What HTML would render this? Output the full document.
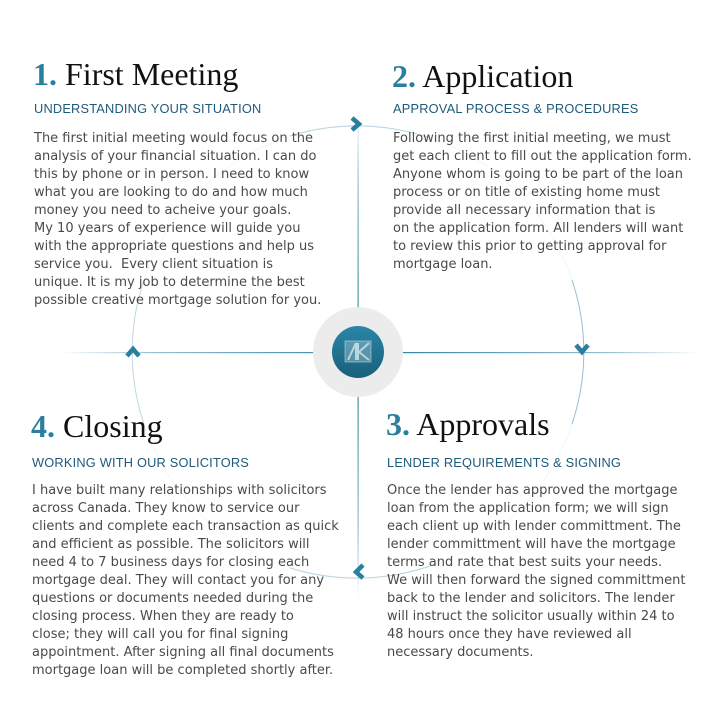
<!DOCTYPE html>
<html><head><meta charset="utf-8"><style>
html,body{margin:0;padding:0;background:#fff;}
body{width:703px;height:702px;position:relative;overflow:hidden;font-family:"DejaVu Sans","Liberation Sans",sans-serif;}
.h{position:absolute;font-family:"Liberation Serif",serif;font-size:32px;color:#111;white-space:nowrap;line-height:36px;}
.h b{color:#2a7f9e;font-weight:bold;}
.s{position:absolute;font-family:"Liberation Sans",sans-serif;font-size:12.8px;color:#1f5a7a;white-space:nowrap;letter-spacing:0.2px;line-height:16px;}
.t{position:absolute;font-size:13px;color:#4a4a4a;white-space:nowrap;line-height:18px;letter-spacing:0;}
svg{position:absolute;left:0;top:0;}
</style></head><body>
<svg width="703" height="702">
<defs>
<linearGradient id="hl" x1="0" x2="1"><stop offset="0" stop-color="#2a7f9e" stop-opacity="0"/><stop offset="0.15" stop-color="#2a7f9e" stop-opacity="0.5"/><stop offset="0.5" stop-color="#2a7f9e"/><stop offset="0.85" stop-color="#2a7f9e" stop-opacity="0.5"/><stop offset="1" stop-color="#2a7f9e" stop-opacity="0"/></linearGradient>
<linearGradient id="vl" x1="0" x2="0" y1="0" y2="1"><stop offset="0" stop-color="#2a7f9e" stop-opacity="0"/><stop offset="0.15" stop-color="#2a7f9e" stop-opacity="0.5"/><stop offset="0.5" stop-color="#2a7f9e"/><stop offset="0.85" stop-color="#2a7f9e" stop-opacity="0.5"/><stop offset="1" stop-color="#2a7f9e" stop-opacity="0"/></linearGradient>
<linearGradient id="ball" x1="0" x2="0" y1="0" y2="1"><stop offset="0" stop-color="#2a86a8"/><stop offset="1" stop-color="#1a5f7a"/></linearGradient>
</defs>
<circle cx="358" cy="352" r="226" fill="none" stroke="#2a7f9e" stroke-opacity="0.06" stroke-width="1"/>
<path d="M290 136 A226 226 0 0 1 430 138" fill="none" stroke="#2a7f9e" stroke-opacity="0.3"/>
<path d="M572 280 A226 226 0 0 1 572 424" fill="none" stroke="#2a7f9e" stroke-opacity="0.45"/>
<path d="M430 566 A226 226 0 0 1 290 568" fill="none" stroke="#2a7f9e" stroke-opacity="0.3"/>
<path d="M144 424 A226 226 0 0 1 144 280" fill="none" stroke="#2a7f9e" stroke-opacity="0.25"/>
<rect x="60" y="352" width="640" height="1.2" fill="url(#hl)"/>
<rect x="357.5" y="110" width="1.2" height="490" fill="url(#vl)"/>
<circle cx="358" cy="352" r="45" fill="#ececec"/>
<circle cx="358" cy="352" r="26" fill="url(#ball)"/>
<rect x="345" y="341" width="26" height="21" fill="#fff" fill-opacity="0.25" stroke="#fff" stroke-opacity="0.4"/>
<path d="M348 360 L356 343 M356 343 V360 M358 343 V360 M369 343 L359 352 L369 360" stroke="#fff" stroke-opacity="0.6" stroke-width="2" fill="none"/>
<path d="M352 118 L359 124 L352 130" stroke="#2a7f9e" stroke-width="4.5" fill="none"/>
<path d="M576 345 L582 352 L588 345" stroke="#2a7f9e" stroke-width="4.5" fill="none"/>
<path d="M363 565 L356 572 L363 578" stroke="#2a7f9e" stroke-width="4.5" fill="none"/>
<path d="M127 356 L133 349 L139 356" stroke="#2a7f9e" stroke-width="4.5" fill="none"/>
</svg>

<div class="h" style="left:33px;top:56px"><b>1.</b> First Meeting</div>
<div class="s" style="left:34px;top:101px">UNDERSTANDING YOUR SITUATION</div>
<div class="t" style="left:34px;top:130px">The first initial meeting would focus on the<br>analysis of your financial situation. I can do<br>this by phone or in person. I need to know<br>what you are looking to do and how much<br>money you need to acheive your goals.<br>My 10 years of experience will guide you<br>with the appropriate questions and help us<br>service you.&nbsp; Every client situation is<br>unique. It is my job to determine the best<br>possible creative mortgage solution for you.</div>

<div class="h" style="left:392px;top:58px"><b>2.</b> Application</div>
<div class="s" style="left:393px;top:101px">APPROVAL PROCESS &amp; PROCEDURES</div>
<div class="t" style="left:393px;top:130px">Following the first initial meeting, we must<br>get each client to fill out the application form.<br>Anyone whom is going to be part of the loan<br>process or on title of existing home must<br>provide all necessary information that is<br>on the application form. All lenders will want<br>to review this prior to getting approval for<br>mortgage loan.</div>

<div class="h" style="left:31px;top:408px"><b>4.</b> Closing</div>
<div class="s" style="left:32px;top:455px">WORKING WITH OUR SOLICITORS</div>
<div class="t" style="left:32px;top:482px">I have built many relationships with solicitors<br>across Canada. They know to service our<br>clients and complete each transaction as quick<br>and efficient as possible. The solicitors will<br>need 4 to 7 business days for closing each<br>mortgage deal. They will contact you for any<br>questions or documents needed during the<br>closing process. When they are ready to<br>close; they will call you for final signing<br>appointment. After signing all final documents<br>mortgage loan will be completed shortly after.</div>

<div class="h" style="left:386px;top:406px"><b>3.</b> Approvals</div>
<div class="s" style="left:387px;top:455px">LENDER REQUIREMENTS &amp; SIGNING</div>
<div class="t" style="left:387px;top:482px">Once the lender has approved the mortgage<br>loan from the application form; we will sign<br>each client up with lender committment. The<br>lender committment will have the mortgage<br>terms and rate that best suits your needs.<br>We will then forward the signed committment<br>back to the lender and solicitors. The lender<br>will instruct the solicitor usually within 24 to<br>48 hours once they have reviewed all<br>necessary documents.</div>
</body></html>
